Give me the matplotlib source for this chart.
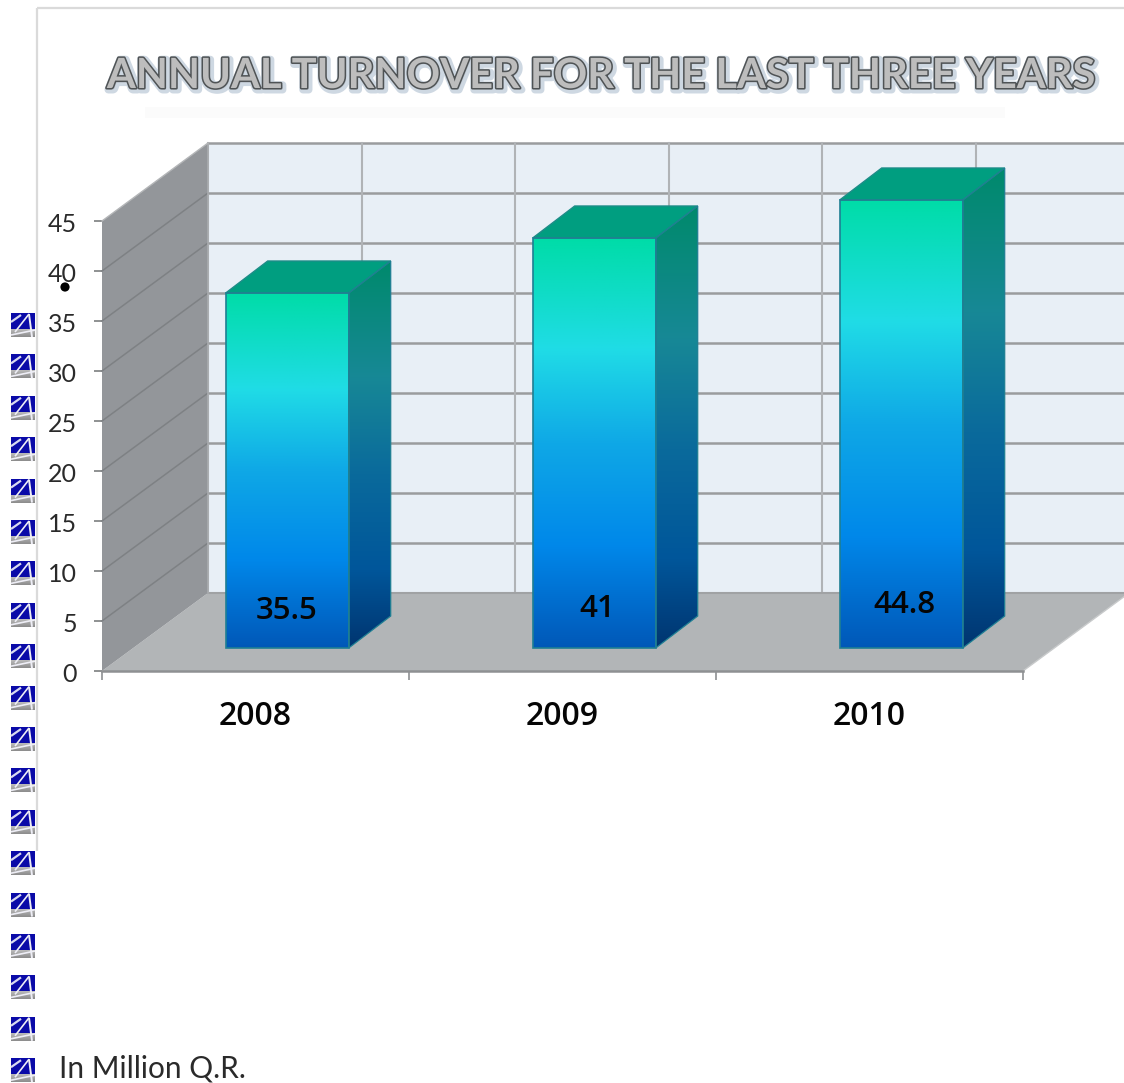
import numpy as np
import matplotlib
matplotlib.use('Agg')
import matplotlib.pyplot as plt
from matplotlib.colors import LinearSegmentedColormap
from matplotlib.patches import Polygon, Rectangle, Circle
from matplotlib.transforms import ScaledTranslation
import matplotlib.patheffects as pe

# data
years = ['2008', '2009', '2010']
turnover = [35.5, 41, 44.8]
turnover_labels = ['35.5', '41', '44.8']
y_ticks = [0, 5, 10, 15, 20, 25, 30, 35, 40, 45]
title_text = 'ANNUAL TURNOVER FOR THE LAST THREE YEARS'
unit_text = 'In Million Q.R.'

W, H = 1124, 1083
fig = plt.figure(figsize=(W / 100, H / 100), dpi=100, facecolor='white')

# overlay in pixel coords for the slide stuff (frame, bullets, title)
bg = fig.add_axes([0, 0, 1, 1], zorder=3)
bg.set_xlim(0, W)
bg.set_ylim(H, 0)
bg.axis('off')
bg.patch.set_alpha(0)

# chart axes: category units along x, values along y
LEFT, RIGHT, TOP, BOTTOM = 102, 1023, 221, 671
ax = fig.add_axes([LEFT / W, 1 - BOTTOM / H, (RIGHT - LEFT) / W, (BOTTOM - TOP) / H], zorder=2)
ax.patch.set_alpha(0)
ax.set_xlim(0, 3)
ax.set_ylim(0, 45)

px_x = 3 / (RIGHT - LEFT)
px_y = 45 / (BOTTOM - TOP)
wall_dx, wall_dy = 106 * px_x, 78 * px_y
bar_dx, bar_dy = 42 * px_x, 32 * px_y
bar_w = 123 * px_x
bar_off = 123.7 * px_x
bar_base = 23 * px_y

front_cm = LinearSegmentedColormap.from_list('front', [(0, '#00DCA8'), (0.27, '#20DCE6'), (0.5, '#0FA8E6'), (0.75, '#0088EA'), (1, '#0058B8')])
side_cm = LinearSegmentedColormap.from_list('side', [(0, '#008A6C'), (0.3, '#178896'), (0.55, '#0A6A9C'), (0.8, '#00569A'), (1, '#003570')])


def fill_gradient(points, cmap, zorder):
    pts = np.array(points)
    xmin, xmax = pts[:, 0].min(), pts[:, 0].max()
    ymin, ymax = pts[:, 1].min(), pts[:, 1].max()
    im = ax.imshow(np.linspace(0, 1, 256).reshape(-1, 1), cmap=cmap, aspect='auto', origin='upper',
                   extent=[xmin, xmax, ymin, ymax], zorder=zorder)
    poly = Polygon(points, closed=True, transform=ax.transData, facecolor='none', edgecolor='none')
    # image must be allowed outside the axes box, bars go above 45
    im.set_clip_box(fig.bbox)
    im.set_clip_path(poly)


# back wall
ax.add_patch(Polygon([(wall_dx, wall_dy), (4, wall_dy), (4, 45 + wall_dy), (wall_dx, 45 + wall_dy)], facecolor='#E8EFF6', edgecolor='none', clip_on=False, zorder=1))
for v in y_ticks[1:]:
    ax.plot([wall_dx, 4], [v + wall_dy, v + wall_dy], color='#9A9C9E', lw=1.8, clip_on=False, zorder=2)
for k in range(6):
    gx = wall_dx + k * 0.5
    ax.plot([gx, gx], [wall_dy, 45 + wall_dy], color='#B0B3B6', lw=1.5, clip_on=False, zorder=2)

# floor and side wall
ax.add_patch(Polygon([(0, 0), (3, 0), (3 + wall_dx, wall_dy), (wall_dx, wall_dy)], facecolor='#B2B5B7', edgecolor='none', clip_on=False, zorder=3))
ax.plot([wall_dx, 4], [wall_dy, wall_dy], color='#A0A2A4', lw=1.5, clip_on=False, zorder=3)
ax.plot([3, 3 + wall_dx], [0, wall_dy], color='#C8CACB', lw=1, clip_on=False, zorder=3)
side = [(0, 0), (wall_dx, wall_dy), (wall_dx, 45 + wall_dy), (0, 45)]
ax.add_patch(Polygon(side, facecolor='#93969A', edgecolor='none', clip_on=False, zorder=3))
for v in y_ticks[1:-1]:
    ax.plot([0, wall_dx], [v, v + wall_dy], color='#7E8184', lw=1.1, clip_on=False, zorder=4)
ax.plot([wall_dx, wall_dx], [wall_dy, 45 + wall_dy], color='#A9ACAF', lw=1.2, clip_on=False, zorder=4)
ax.plot([0, wall_dx], [45, 45 + wall_dy], color='#B4B6B8', lw=1, clip_on=False, zorder=4)

# bars
for i, val in enumerate(turnover):
    x0 = i + bar_off
    x1 = x0 + bar_w
    y0 = bar_base
    y1 = bar_base + val
    front = [(x0, y0), (x1, y0), (x1, y1), (x0, y1)]
    right = [(x1, y0), (x1 + bar_dx, y0 + bar_dy), (x1 + bar_dx, y1 + bar_dy), (x1, y1)]
    top = [(x0, y1), (x1, y1), (x1 + bar_dx, y1 + bar_dy), (x0 + bar_dx, y1 + bar_dy)]
    fill_gradient(front, front_cm, 6)
    fill_gradient(right, side_cm, 6)
    ax.add_patch(Polygon(top, facecolor='#009E80', edgecolor='#1E8C88', lw=1, zorder=7, clip_on=False))
    ax.add_patch(Polygon(front, facecolor='none', edgecolor='#1F7F93', lw=1.2, zorder=7, clip_on=False))
    ax.add_patch(Polygon(right, facecolor='none', edgecolor='#1F7F93', lw=0.9, zorder=7, clip_on=False))

ax.set_xlim(0, 3)
ax.set_ylim(0, 45)

# value labels
label_y = [6.0, 6.2, 6.6]
label_x = [-1 * px_x, 3 * px_x, 3 * px_x]
for i, lab in enumerate(turnover_labels):
    ax.text(i + bar_off + bar_w / 2 + label_x[i], label_y[i], lab, ha='center', va='center', fontsize=22.5,
            family='Open Sans', weight=600, color='#050505', zorder=9)

# axes
for s in ['top', 'right', 'left']:
    ax.spines[s].set_visible(False)
ax.spines['bottom'].set_color('#8E9092')
ax.spines['bottom'].set_linewidth(1.8)
ax.spines['bottom'].set_zorder(5)
ax.set_yticks(y_ticks)
ax.set_yticklabels([str(v) for v in y_ticks], family='Lato', fontsize=18, color='#2A2A2A')
ax.tick_params(axis='y', length=6, width=1.4, color='#8E9092', pad=12)
shift = ScaledTranslation(0, -2 / 100, fig.dpi_scale_trans)
for t in ax.get_yticklabels():
    t.set_transform(t.get_transform() + shift)
ax.set_xticks([0, 1, 2, 3])
ax.set_xticklabels([])
ax.tick_params(axis='x', which='major', length=6.5, width=1.2, color='#8E9092')
ax.set_xticks([0.5, 1.5, 2.5], minor=True)
ax.set_xticklabels(years, minor=True, family='Open Sans', weight=600, fontsize=23, color='#050505')
ax.tick_params(axis='x', which='minor', length=0, pad=21)

# slide frame
bg.plot([37, 37], [8, 851], color='#DADADA', lw=1.6, solid_capstyle='butt')
bg.plot([37, W], [8, 8], color='#DADADA', lw=1.6, solid_capstyle='butt')
bg.add_patch(Rectangle((145, 107), 860, 11, facecolor='#FBFBFB', edgecolor='none', zorder=0))
bg.add_patch(Circle((65, 287), 4.6, facecolor='black', edgecolor='none'))


# the little logo bullets
def bullet(cy, cx=23, s=12):
    bg.add_patch(Rectangle((cx - s, cy - s), 2 * s, 2 * s * 0.68, facecolor='#0A0AA8', edgecolor='none'))
    grad = np.linspace(0, 1, 8).reshape(-1, 1)
    bg.imshow(grad, cmap=LinearSegmentedColormap.from_list('g', ['#B8B8B8', '#8E8E8E']), aspect='auto',
              extent=[cx - s, cx + s, cy + s, cy + s * 0.36], zorder=1)
    white = dict(color='#EEEEF6', solid_capstyle='butt', zorder=2)
    bg.plot([cx - 8, cx + 6], [cy + 7, cy - 11], lw=1.2, **white)
    bg.plot([cx + 6, cx + 9], [cy - 11, cy + 12], lw=1.4, **white)
    bg.plot([cx - 12, cx + 12], [cy + 10, cy + 5], lw=1.2, **white)
    bg.plot([cx - 12, cx - 2], [cy - 3, cy - 10], lw=1.6, color='#D8DAF0', solid_capstyle='butt', zorder=2)


for row in range(19):
    bullet(325 + 41.4 * row)

bg.set_xlim(0, W)
bg.set_ylim(H, 0)

bg.text(601, 76, title_text, ha='center', va='center', family='Lato', weight='bold', fontsize=30,
        color='#BDBDBD', path_effects=[
            pe.Stroke(linewidth=5.5, foreground='#9FB2C6', alpha=0.5, offset=(1.2, -1.2)),
            pe.Stroke(linewidth=2.2, foreground='#4F5355'),
            pe.Normal()])
bg.text(59, 1069, unit_text, ha='left', va='center', family='Lato', fontsize=21.5, color='#2A2A2A')

fig.savefig('out.png', dpi=100)
